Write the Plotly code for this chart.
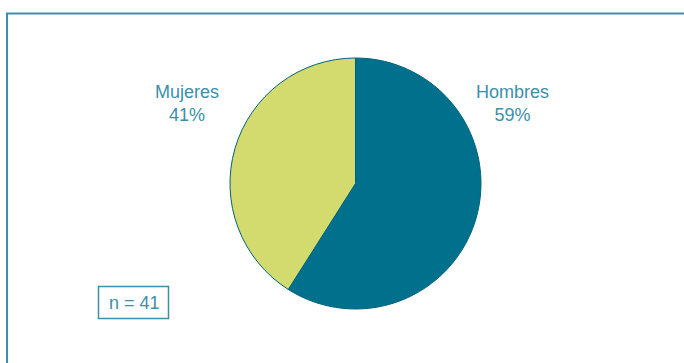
import plotly.graph_objects as go

W, H = 684, 363

# Gender breakdown of respondents
categories = ["Hombres", "Mujeres"]
shares = [59, 41]
sample_n = 41

slice_colors = ["#00708c", "#d3db6e"]
text_color = "#3a90a8"
frame_color = "#3a90a8"

# pie geometry in pixels
cx, cy, r = 355.5, 183.5, 125.5

fig = go.Figure(
    go.Pie(
        labels=categories,
        values=shares,
        sort=False,
        direction="clockwise",
        rotation=0,
        marker=dict(colors=slice_colors, line=dict(color="#00627e", width=1)),
        textinfo="none",
        hoverinfo="label+percent",
        showlegend=False,
        domain=dict(
            x=[(cx - r) / W, (cx + r) / W],
            y=[(H - cy - r) / H, (H - cy + r) / H],
        ),
    )
)

font = dict(family="Liberation Sans, Arial, sans-serif", size=18, color=text_color)

label_pos = {"Hombres": (512.5, 103.5), "Mujeres": (187, 103.5)}
for cat, val in zip(categories, shares):
    x, y = label_pos[cat]
    fig.add_annotation(
        x=x / W, y=1 - y / H, xref="paper", yref="paper",
        text=f"{cat}<br>{val}%", showarrow=False, font=font,
        align="center", xanchor="center", yanchor="middle",
    )

# sample size box
fig.add_shape(
    type="rect", xref="paper", yref="paper",
    x0=98.5 / W, x1=168.5 / W, y0=1 - 318.5 / H, y1=1 - 286.5 / H,
    line=dict(color=frame_color, width=1.5),
)
fig.add_annotation(
    x=134 / W, y=1 - 302.5 / H, xref="paper", yref="paper",
    text=f"n = {sample_n}", showarrow=False, font=font,
    xanchor="center", yanchor="middle",
)

# outer frame, open past the right and bottom edges
fig.add_shape(
    type="rect", xref="paper", yref="paper",
    x0=7 / W, x1=1.05, y0=-0.05, y1=1 - 13.5 / H,
    line=dict(color=frame_color, width=2),
)

fig.update_layout(
    width=W, height=H,
    margin=dict(l=0, r=0, t=0, b=0),
    paper_bgcolor="white", plot_bgcolor="white",
)

fig.write_html("out.html")
